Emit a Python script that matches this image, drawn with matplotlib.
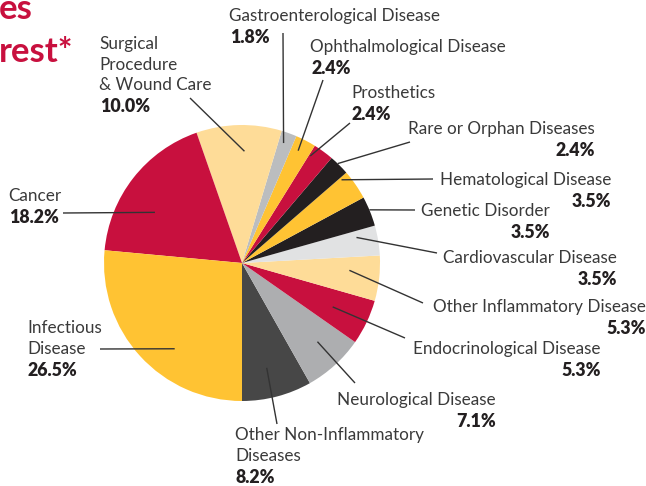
import numpy as np
import matplotlib.pyplot as plt

plt.rcParams['font.family'] = ['Lato', 'DejaVu Sans']

# data, counter-clockwise from the bottom of the pie
categories = ['Other Non-Inflammatory\nDiseases', 'Neurological Disease',
              'Endocrinological Disease', 'Other Inflammatory Disease',
              'Cardiovascular Disease', 'Genetic Disorder',
              'Hematological Disease', 'Rare or Orphan Diseases',
              'Prosthetics', 'Ophthalmological Disease',
              'Gastroenterological Disease', 'Surgical\nProcedure\n& Wound Care',
              'Cancer', 'Infectious\nDisease']
shares = [8.2, 7.1, 5.3, 5.3, 3.5, 3.5, 3.5, 2.4, 2.4, 2.4, 1.8, 10.0, 18.2, 26.5]
colors = ['#474747', '#adaeb0', '#c8103e', '#fedc98', '#e1e2e3', '#231f20',
          '#ffc333', '#231f20', '#c8103e', '#ffc333', '#bbbdbf', '#fedc98',
          '#c8103e', '#ffc333']
title_lines = ['es', 'rest*']

# label layout in image pixels:
# (text x, first line y, pct alignment, line end x, line end y, pos in wedge, radius frac)
layout = [
    (235, 435, 'left', 277, 424, 0.45, 0.78),
    (337, 400, 'right', 355, 383, 0.56, 0.79),
    (413, 349, 'right', 405, 338, 0.48, 0.73),
    (433, 307, 'right', 423, 303, 0.63, 0.78),
    (443, 258, 'right', 437, 253, 0.75, 0.85),
    (421, 211, 'right', 415, 210, 0.55, 1.0),
    (440, 180, 'right', 433, 179, 0.92, 0.94),
    (408, 129, 'right', 410, 142, 0.60, 1.0),
    (351, 93, 'left', 350, 123, 0.92, 0.92),
    (310, 47, 'left', 323, 80, 0.61, 0.91),
    (229, 16, 'left', 283, 33, 0.63, 0.92),
    (99, 44, 'left', 190, 98, 0.43, 0.81),
    (8, 196, 'left', 63, 213, 0.62, 0.73),
    (27, 328, 'left', 100, 349, 0.60, 0.79),
]

W, H = 646, 486
cx, cy, R = 242, 263, 138

fig = plt.figure(figsize=(6.46, 4.86), dpi=100)
ax = fig.add_axes([0, 0, 1, 1])
wedges, _ = ax.pie(shares, colors=colors, startangle=270, counterclock=True,
                   center=(cx, H - cy), radius=R,
                   wedgeprops=dict(linewidth=0))
ax.set_xlim(0, W)
ax.set_ylim(0, H)
ax.set_aspect('equal')
ax.axis('off')

renderer = fig.canvas.get_renderer()
name_color = '#3a3a3a'
pct_color = '#231f20'
step = 20.6

for w, name, pct, (tx, ty, align, lx, ly, t, rf) in zip(wedges, categories, shares, layout):
    ang = np.deg2rad(w.theta1 + t * (w.theta2 - w.theta1))
    px = cx + rf * R * np.cos(ang)
    py = (H - cy) + rf * R * np.sin(ang)
    ax.plot([px, lx], [py, H - ly], color='#333333', lw=1.0, solid_capstyle='butt')

    lines = name.split('\n')
    right = tx
    for i, line in enumerate(lines):
        txt = ax.text(tx, H - (ty + i * step), line, fontsize=12.3, color=name_color,
                      ha='left', va='center')
        bb = txt.get_window_extent(renderer)
        right = max(right, bb.x1)
    py_pct = H - (ty + len(lines) * step + 1)
    label = f'{pct:.1f}%'
    if align == 'right':
        ax.text(right, py_pct, label, fontsize=12.8, fontweight='heavy',
                color=pct_color, ha='right', va='center')
    else:
        ax.text(tx + 1, py_pct, label, fontsize=12.8, fontweight='heavy',
                color=pct_color, ha='left', va='center')

# title fragment, as much as shows at the top left
ax.text(-1, H - 19, title_lines[0], fontsize=25, fontweight='bold', color='#c8103e',
        ha='left', va='baseline')
ax.text(-1, H - 62, title_lines[1], fontsize=25, fontweight='bold', color='#c8103e',
        ha='left', va='baseline')

fig.savefig('out.png', dpi=100)
